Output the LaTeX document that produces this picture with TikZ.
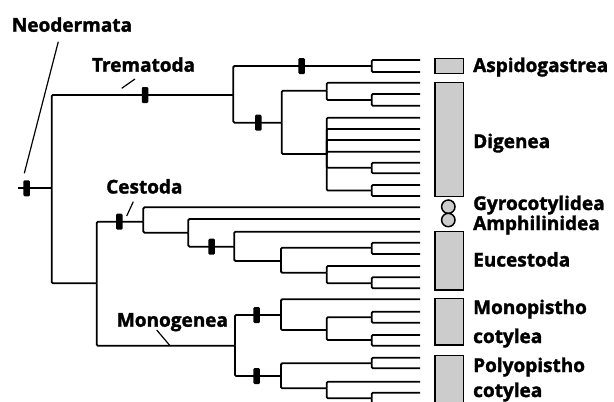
\documentclass[tikz,border=0pt]{standalone}
\usepackage{fontspec}
\setmainfont{Open Sans}[BoldFeatures={FakeBold=1.6}]
\usetikzlibrary{positioning}

\begin{document}
\begin{tikzpicture}[x=1pt, y=-1pt,
        every node/.style={font=\bfseries\fontsize{19}{22}\selectfont, inner sep=0pt},
        branch/.style={line width=1.8pt, rounded corners=1.2pt},
        synbar/.style={fill=black, minimum width=6.5pt, minimum height=16pt, rounded corners=1.2pt},
        taxon/.style={anchor=base west},
        clade/.style={draw, line width=1.5pt, fill=black!20},
        pointer/.style={line width=1.2pt}]
        \clip (0,0) rectangle (614,402);
        % root and inner nodes
        \coordinate (rs) at (18.3,188.3);
        \coordinate (r) at (51.7,188.3);
        \coordinate (tre) at (233.3,95);
        \coordinate (asp) at (371.7,66);
        \coordinate (dig) at (281.7,122.7);
        \coordinate (dig1) at (326.7,90.7);
        \coordinate (dig1b) at (371.7,100);
        \coordinate (dig2) at (326.7,154);
        \coordinate (dig2a) at (371.7,167.7);
        \coordinate (dig2b) at (371.7,190.5);
        \coordinate (cm) at (96.7,283.3);
        \coordinate (ces) at (143.3,221.7);
        \coordinate (ces2) at (188.3,232.7);
        \coordinate (euc) at (234.3,246.7);
        \coordinate (euc2) at (281,261);
        \coordinate (euc3) at (371.7,247.7);
        \coordinate (euc4) at (326.7,272.7);
        \coordinate (euc5) at (371.7,283.3);
        \coordinate (mon) at (235,345.7);
        \coordinate (mo) at (281,315);
        \coordinate (mo2) at (326.7,330);
        \coordinate (mo3) at (371.7,317.3);
        \coordinate (mo4) at (371.7,340);
        \coordinate (po) at (281,376);
        \coordinate (po2) at (371.7,363.3);
        \coordinate (po3) at (326.7,388.3);
        \coordinate (po4) at (371.7,398.3);
        % leaves
        \coordinate (a1) at (420,60);
        \coordinate (a2) at (420,72);
        \coordinate (d1) at (420,82.7);
        \coordinate (d2) at (420,94);
        \coordinate (d3) at (420,105.7);
        \coordinate (d4) at (420,117.7);
        \coordinate (d5) at (420,129);
        \coordinate (d6) at (420,140);
        \coordinate (d7) at (420,151.7);
        \coordinate (d8) at (420,162.7);
        \coordinate (d9) at (420,173.3);
        \coordinate (d10) at (420,185);
        \coordinate (d11) at (420,196);
        \coordinate (gy) at (420,207.3);
        \coordinate (am) at (420,219);
        \coordinate (e1) at (420,231.7);
        \coordinate (e2) at (420,242.7);
        \coordinate (e3) at (420,254);
        \coordinate (e4) at (420,266);
        \coordinate (e5) at (420,277.3);
        \coordinate (e6) at (420,288.3);
        \coordinate (m1) at (420,299.3);
        \coordinate (m2) at (420,311.7);
        \coordinate (m3) at (420,322.7);
        \coordinate (m4) at (420,335);
        \coordinate (m5) at (420,345.7);
        \coordinate (p1) at (420,357.7);
        \coordinate (p2) at (420,368.3);
        \coordinate (p3) at (420,381.7);
        \coordinate (p4) at (420,392.7);
        \coordinate (p5) at (420,404);
        % branches
        \draw[branch] (rs) -- (r);
        \draw[branch] (r) |- (tre);
        \draw[branch] (r) |- (cm);
        \draw[branch] (tre) |- (asp);
        \draw[branch] (tre) |- (dig);
        \draw[branch] (asp) |- (a1);
        \draw[branch] (asp) |- (a2);
        \draw[branch] (dig) |- (dig1);
        \draw[branch] (dig) |- (dig2);
        \draw[branch] (dig1) |- (d1);
        \draw[branch] (dig1) |- (dig1b);
        \draw[branch] (dig1b) |- (d2);
        \draw[branch] (dig1b) |- (d3);
        \draw[branch] (dig2) |- (d4);
        \draw[branch] (dig2) |- (d5);
        \draw[branch] (dig2) |- (d6);
        \draw[branch] (dig2) |- (d7);
        \draw[branch] (dig2) |- (dig2a);
        \draw[branch] (dig2) |- (dig2b);
        \draw[branch] (dig2a) |- (d8);
        \draw[branch] (dig2a) |- (d9);
        \draw[branch] (dig2b) |- (d10);
        \draw[branch] (dig2b) |- (d11);
        \draw[branch] (cm) |- (ces);
        \draw[branch] (cm) |- (mon);
        \draw[branch] (ces) |- (gy);
        \draw[branch] (ces) |- (ces2);
        \draw[branch] (ces2) |- (am);
        \draw[branch] (ces2) |- (euc);
        \draw[branch] (euc) |- (e1);
        \draw[branch] (euc) |- (euc2);
        \draw[branch] (euc2) |- (euc3);
        \draw[branch] (euc2) |- (euc4);
        \draw[branch] (euc3) |- (e2);
        \draw[branch] (euc3) |- (e3);
        \draw[branch] (euc4) |- (e4);
        \draw[branch] (euc4) |- (euc5);
        \draw[branch] (euc5) |- (e5);
        \draw[branch] (euc5) |- (e6);
        \draw[branch] (mon) |- (mo);
        \draw[branch] (mon) |- (po);
        \draw[branch] (mo) |- (m1);
        \draw[branch] (mo) |- (mo2);
        \draw[branch] (mo2) |- (mo3);
        \draw[branch] (mo2) |- (mo4);
        \draw[branch] (mo3) |- (m2);
        \draw[branch] (mo3) |- (m3);
        \draw[branch] (mo4) |- (m4);
        \draw[branch] (mo4) |- (m5);
        \draw[branch] (po) |- (po2);
        \draw[branch] (po) |- (po3);
        \draw[branch] (po2) |- (p1);
        \draw[branch] (po2) |- (p2);
        \draw[branch] (po3) |- (p3);
        \draw[branch] (po3) |- (po4);
        \draw[branch] (po4) |- (p4);
        \draw[branch] (po4) |- (p5);
        % synapomorphy bars
        \node[synbar] (bneo) at (26.7,188.3) {};
        \node[synbar] (btre) at (145,95) {};
        \node[synbar] (basp) at (301.7,66) {};
        \node[synbar] (bdig) at (258.3,122.7) {};
        \node[synbar] (bces) at (119.3,221.7) {};
        \node[synbar] (beuc) at (211.7,246.7) {};
        \node[synbar] (bmo) at (256.7,315) {};
        \node[synbar] (bpo) at (256.7,376) {};
        % clade boxes
        \draw[clade] (435,58.3) rectangle (463.3,73.3);
        \draw[clade] (435,82.7) rectangle (463.3,196.7);
        \draw[clade] (448.3,206.7) circle (6.7pt);
        \draw[clade] (448.3,220) circle (6.7pt);
        \draw[clade] (435,231.7) rectangle (463.3,290);
        \draw[clade] (435,298.3) rectangle (463.3,345);
        \draw[clade] (435,355.7) rectangle (463.3,412);
        % taxon names
        \node[taxon] (asptxt) at (473,72) {Aspidogastrea};
        \node[taxon] (digtxt) at (473,148) {Digenea};
        \node[taxon] (gytxt) at (473,210) {Gyrocotylidea};
        \node[taxon] (amtxt) at (473,230) {Amphilinidea};
        \node[taxon] (euctxt) at (473,266.5) {Eucestoda};
        \node[taxon] (motxt) at (473,314) {Monopistho};
        \node[taxon] (motxtb) at (473,343) {cotylea};
        \node[taxon] (potxt) at (473,372) {Polyopistho};
        \node[taxon] (potxtb) at (473,397) {cotylea};
        % clade names
        \node[taxon] (neotxt) at (11.7,31.7) {Neodermata};
        \node[taxon] (tretxt) at (91.7,71.7) {Trematoda};
        \node[taxon] (cestxt) at (106,193.5) {Cestoda};
        \node[taxon] (montxt) at (116.7,326.7) {Monogenea};
        \coordinate (neoend) at (24.3,173.3);
        \coordinate (treend) at (121.7,88.3);
        \coordinate (cesend) at (126.7,216);
        \coordinate (monend) at (170,345.7);
        \draw[pointer] (58.3,41.7) -- (neoend);
        \draw[pointer] (135,79) -- (treend);
        \draw[pointer] (133.3,201.7) -- (cesend);
        \draw[pointer] (156.7,330) -- (monend);
    \end{tikzpicture}
\end{document}
